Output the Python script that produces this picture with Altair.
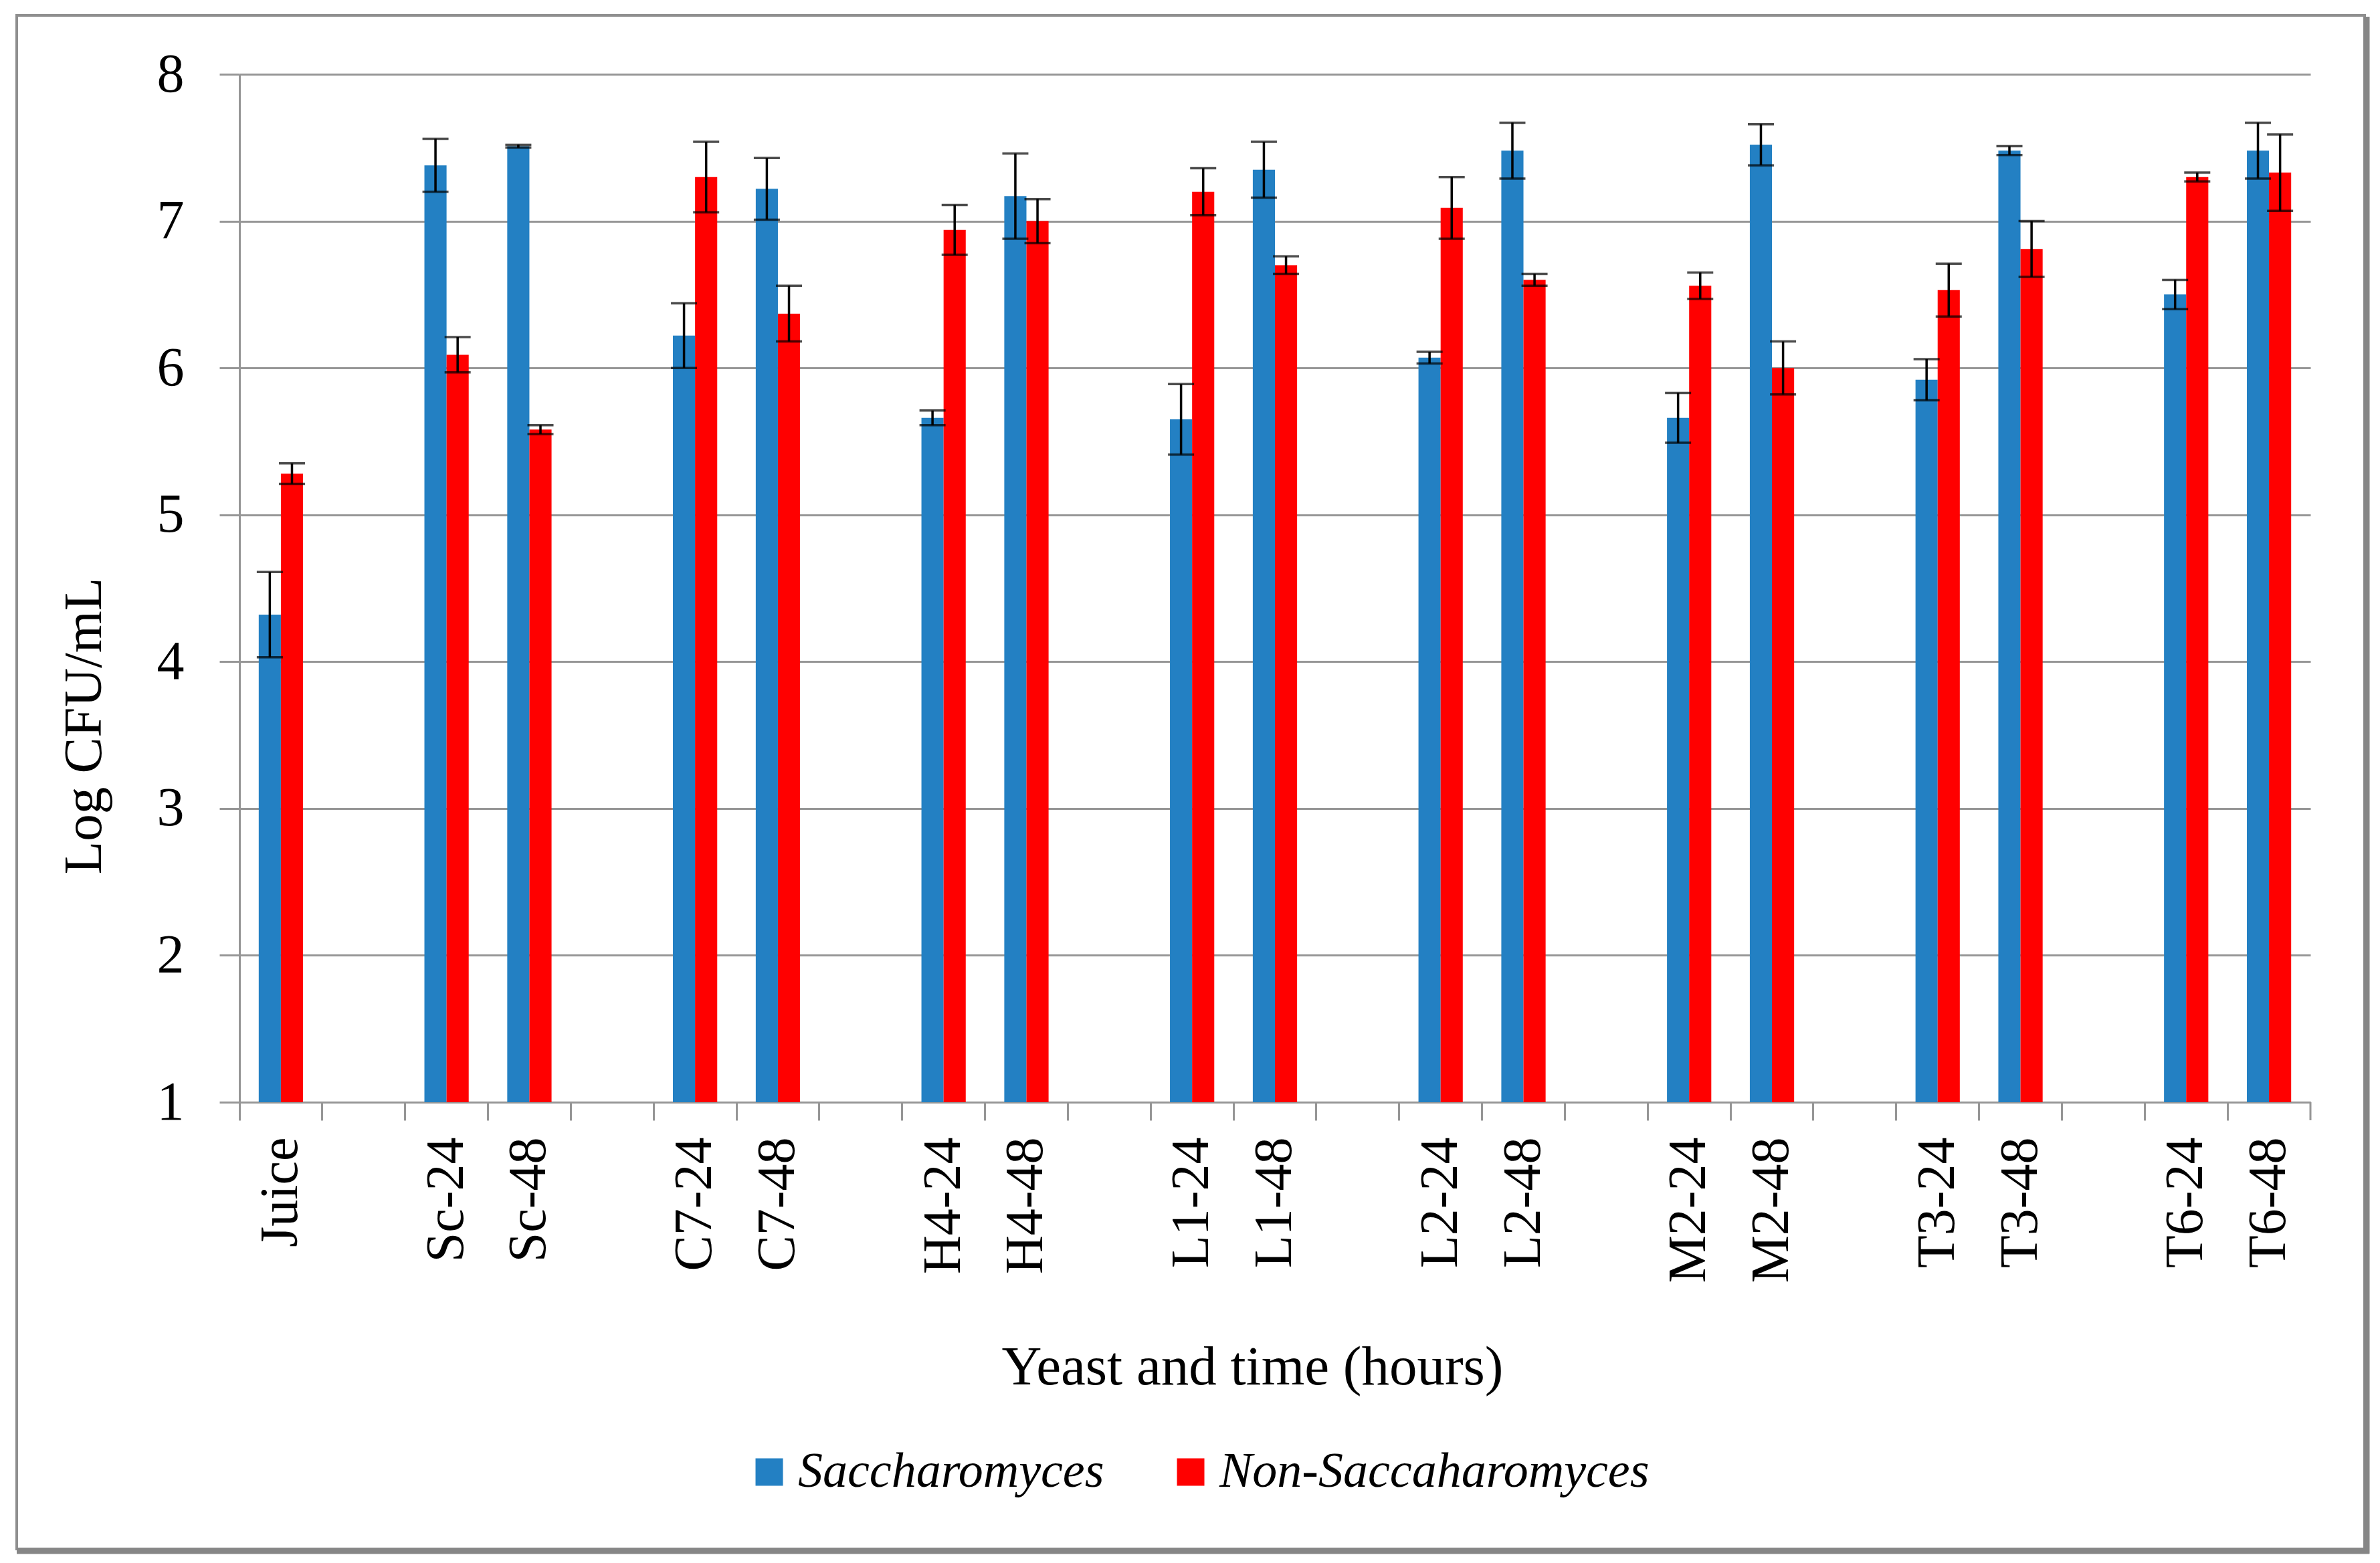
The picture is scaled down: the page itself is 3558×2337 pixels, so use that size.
import altair as alt
import pandas as pd

# ---- data ----
x_order = ["Juice", " ", "Sc-24", "Sc-48", "  ", "C7-24", "C7-48", "   ",
           "H4-24", "H4-48", "    ", "L1-24", "L1-48", "     ", "L2-24", "L2-48",
           "      ", "M2-24", "M2-48", "       ", "T3-24", "T3-48", "        ",
           "T6-24", "T6-48"]
samples = ["Juice", "Sc-24", "Sc-48", "C7-24", "C7-48", "H4-24", "H4-48",
           "L1-24", "L1-48", "L2-24", "L2-48", "M2-24", "M2-48", "T3-24", "T3-48",
           "T6-24", "T6-48"]
sacch = [4.32, 7.38, 7.51, 6.22, 7.22, 5.66, 7.17, 5.65, 7.35, 6.07, 7.48,
         5.66, 7.52, 5.92, 7.48, 6.50, 7.48]
sacch_err = [0.29, 0.18, 0.01, 0.22, 0.21, 0.05, 0.29, 0.24, 0.19, 0.04, 0.19,
             0.17, 0.14, 0.14, 0.03, 0.10, 0.19]
non_sacch = [5.28, 6.09, 5.58, 7.30, 6.37, 6.94, 7.00, 7.20, 6.70, 7.09, 6.60,
             6.56, 6.00, 6.53, 6.81, 7.30, 7.33]
non_sacch_err = [0.07, 0.12, 0.03, 0.24, 0.19, 0.17, 0.15, 0.16, 0.06, 0.21, 0.04,
                 0.09, 0.18, 0.18, 0.19, 0.03, 0.26]
series = ["Saccharomyces", "Non-Saccaharomyces"]
colors = ["#2380C3", "#FF0000"]
y_ticks = [1, 2, 3, 4, 5, 6, 7, 8]

rows = []
for i, s in enumerate(samples):
    rows.append({"sample": s, "yeast": series[0], "value": sacch[i], "err": sacch_err[i]})
    rows.append({"sample": s, "yeast": series[1], "value": non_sacch[i], "err": non_sacch_err[i]})
df = pd.DataFrame(rows)
df["lo"] = df["value"] - df["err"]
df["hi"] = df["value"] + df["err"]

W, H = 3096, 1537
FONT = "Liberation Serif"
GRAY = "#969696"

x_enc = alt.X(
    "sample:N",
    sort=x_order,
    scale=alt.Scale(domain=x_order, paddingInner=0, paddingOuter=0),
    axis=alt.Axis(
        title="Yeast and time (hours)",
        bandPosition=0,
        labelAngle=-90,
        labelAlign="right",
        labelBaseline="middle",
        labelPadding=25,
        labelFontSize=80,
        labelFont=FONT,
        labelColor="black",
        labelLimit=0,
        labelOverlap=False,
        tickSize=27,
        tickColor=GRAY,
        tickWidth=3,
        domainColor=GRAY,
        domainWidth=3,
        grid=False,
        titleFontSize=83,
        titleFont=FONT,
        titleFontWeight="normal",
        titleColor="black",
        titleX=1514,
        titleY=396,
        titleAlign="center",
        titleBaseline="middle",
    ),
)
xoff_enc = alt.XOffset(
    "yeast:N",
    sort=series,
    scale=alt.Scale(domain=series, paddingInner=0, paddingOuter=0.87),
)
y_scale = alt.Scale(domain=[1, 8], nice=False, zero=False)
y_axis = alt.Axis(
    values=y_ticks,
    format="d",
    title="Log CFU/mL",
    grid=True,
    gridColor=GRAY,
    gridWidth=3,
    tickSize=30,
    tickColor=GRAY,
    tickWidth=3,
    domainColor=GRAY,
    domainWidth=3,
    labelPadding=53,
    labelFontSize=82,
    labelFont=FONT,
    labelColor="black",
    titleFontSize=81,
    titleFont=FONT,
    titleFontWeight="normal",
    titleColor="black",
    titleX=-232,
    titleY=974,
    titleAlign="center",
    titleBaseline="middle",
)

base = alt.Chart(df)

bars = base.mark_bar().encode(
    x=x_enc,
    xOffset=xoff_enc,
    y=alt.Y("value:Q", scale=y_scale, axis=y_axis),
    y2=alt.datum(1),
    color=alt.Color(
        "yeast:N",
        sort=series,
        scale=alt.Scale(domain=series, range=colors),
        legend=alt.Legend(
            title=None,
            orient="none",
            legendX=755,
            legendY=2053,
            direction="horizontal",
            symbolType="square",
            symbolSize=1681,
            symbolStrokeWidth=0,
            labelFontSize=74,
            labelFont=FONT,
            labelFontStyle="italic",
            labelColor="black",
            labelLimit=0,
            labelOffset=6,
            columnPadding=92,
        ),
    ),
)

err_lines = base.mark_rule(color="black", strokeWidth=3.5).encode(
    x=alt.X("sample:N", sort=x_order),
    xOffset=alt.XOffset("yeast:N", sort=series),
    y=alt.Y("lo:Q"),
    y2="hi:Q",
)
cap_top = base.mark_tick(color="black", thickness=3.5, size=39, orient="horizontal").encode(
    x=alt.X("sample:N", sort=x_order),
    xOffset=alt.XOffset("yeast:N", sort=series),
    y=alt.Y("hi:Q"),
)
cap_bot = base.mark_tick(color="black", thickness=3.5, size=39, orient="horizontal").encode(
    x=alt.X("sample:N", sort=x_order),
    xOffset=alt.XOffset("yeast:N", sort=series),
    y=alt.Y("lo:Q"),
)

one = alt.Data(values=[{"k": 1}])
end_tick = alt.Chart(one).mark_rule(color=GRAY, strokeWidth=3).encode(
    x=alt.value(W), y=alt.value(H), y2=alt.value(H + 27)
)
frame = alt.Chart(one).mark_rect(filled=False, stroke="#8F8F8F", strokeWidth=4).encode(
    x=alt.value(-333), x2=alt.value(3177), y=alt.value(-88), y2=alt.value(2205)
)
shadow_r = alt.Chart(one).mark_rule(color="#868686", strokeWidth=9).encode(
    x=alt.value(3180), y=alt.value(-86), y2=alt.value(2212)
)
shadow_b = alt.Chart(one).mark_rule(color="#868686", strokeWidth=9).encode(
    x=alt.value(-333), x2=alt.value(3184), y=alt.value(2208)
)

chart = (
    alt.layer(bars, err_lines, cap_top, cap_bot, end_tick, frame, shadow_r, shadow_b)
    .properties(
        width=W,
        height=H,
        padding={"left": 350, "top": 103, "right": 89, "bottom": 676},
        autosize=alt.AutoSizeParams(type="none"),
        background="white",
    )
    .configure_view(stroke=None)
)

chart.save("out.html", embed_options={"renderer": "svg", "actions": False})
